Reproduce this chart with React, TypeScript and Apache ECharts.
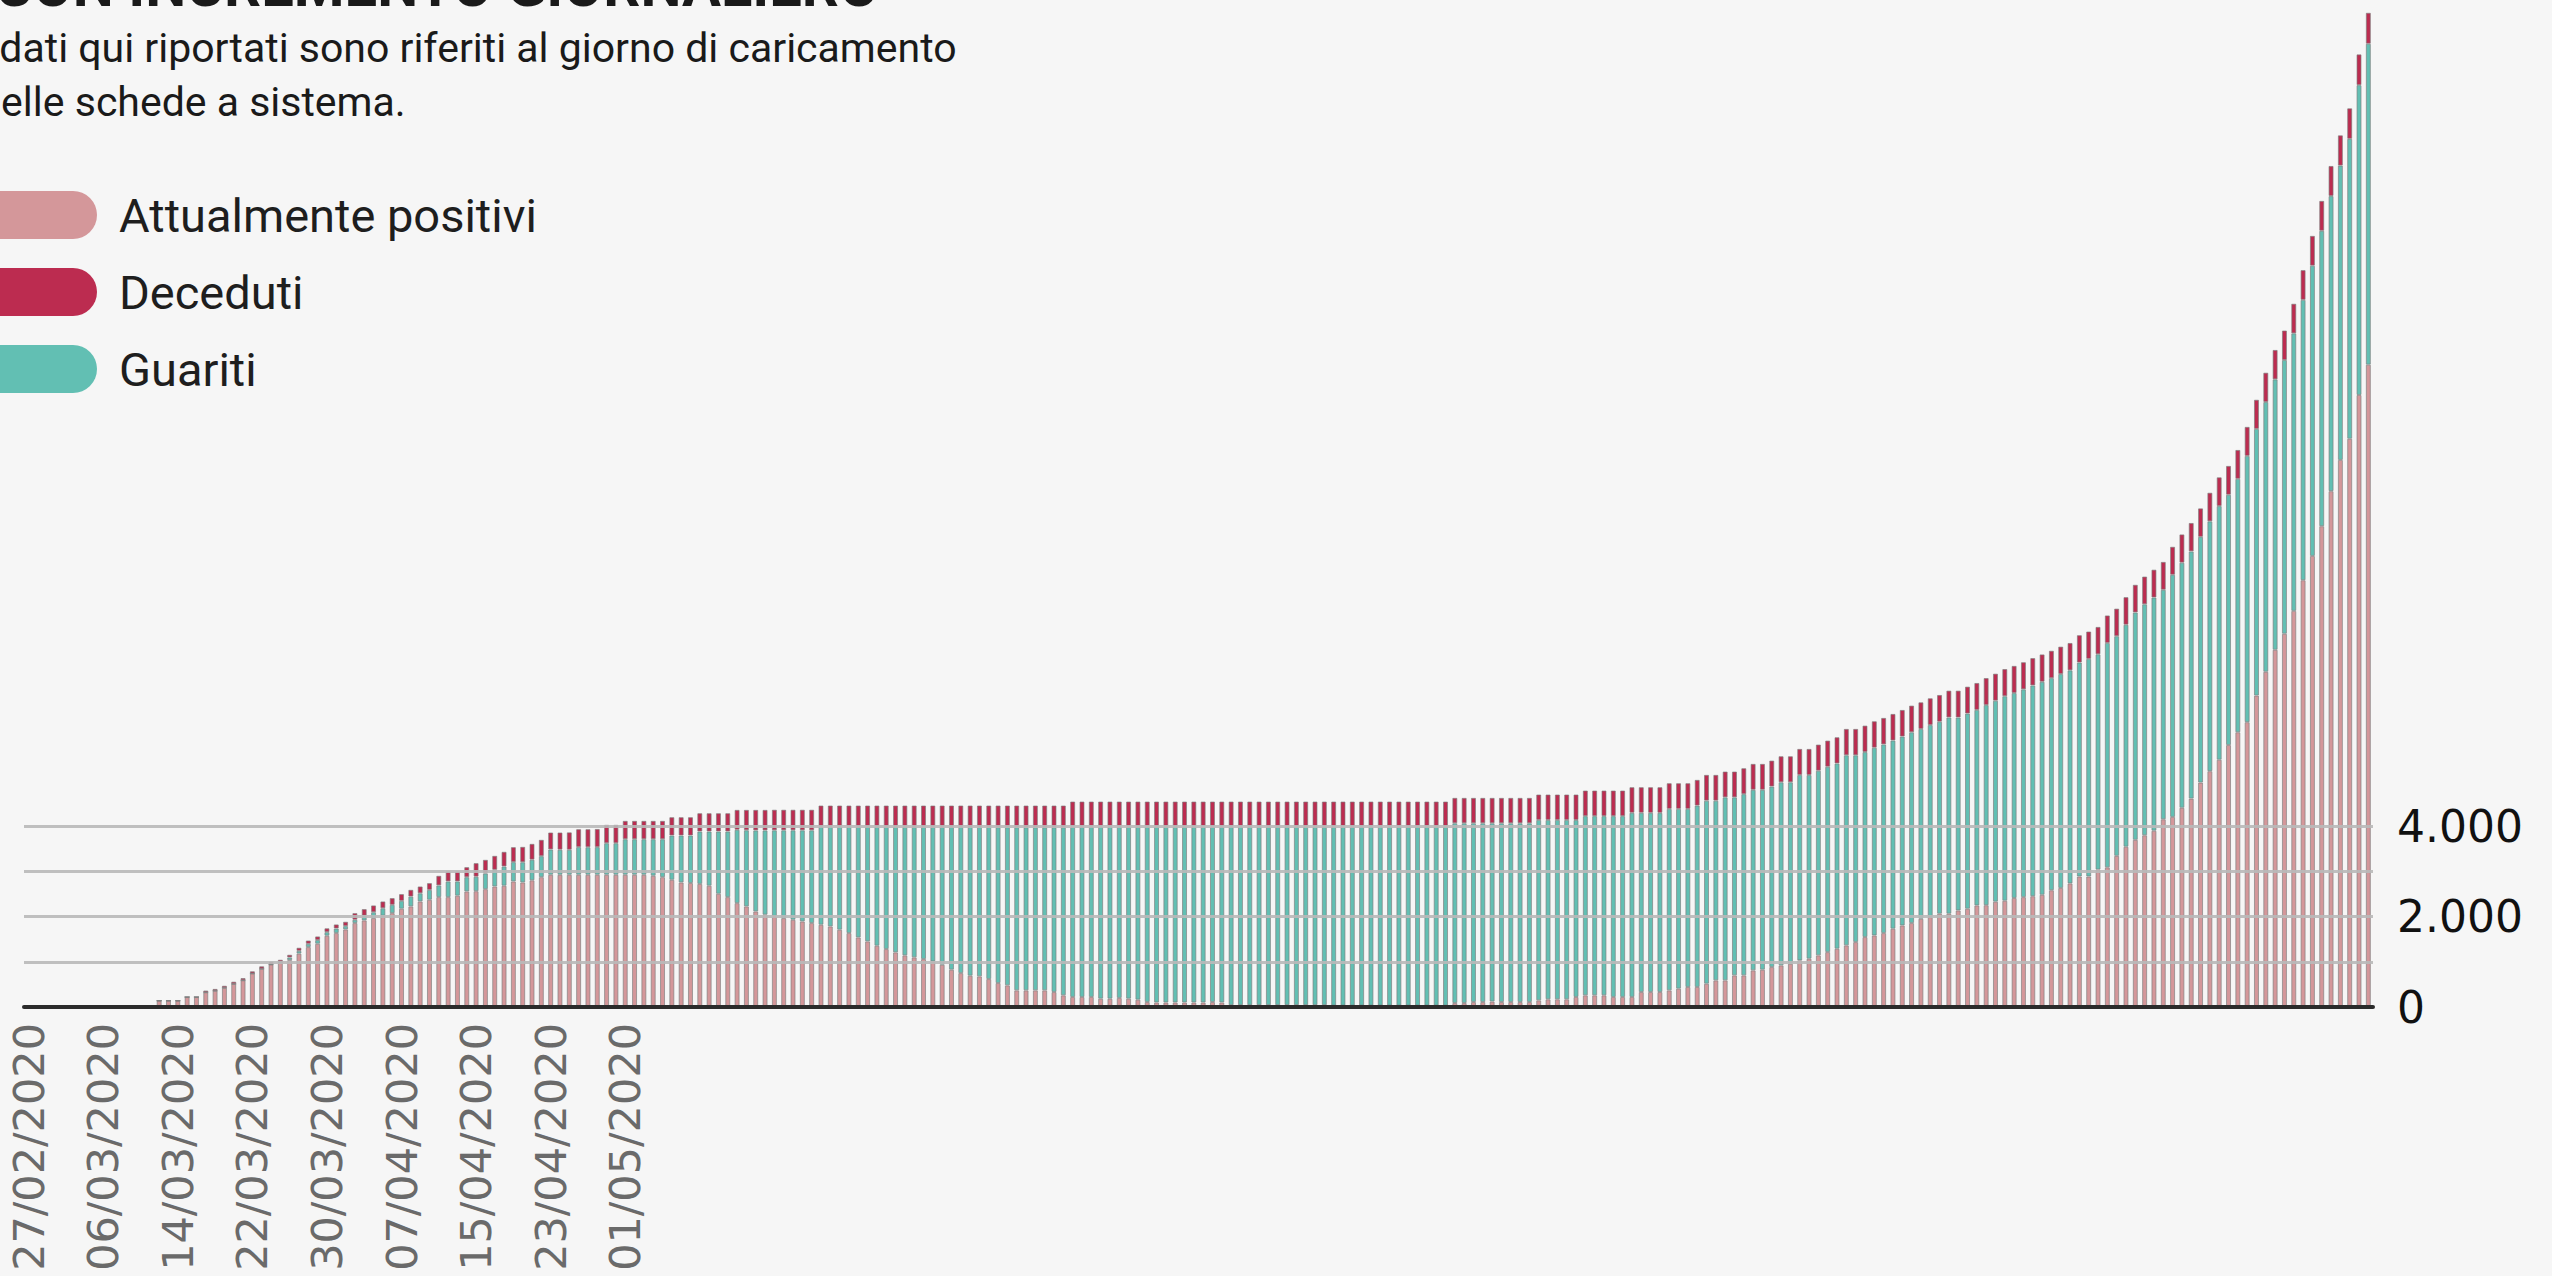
import React, { useEffect, useRef } from "react";
import * as echarts from "echarts";

// Attualmente positivi (bottom segment)
const positivi: number[] = [
  0, 0, 0, 0, 0, 0, 0, 0, 0, 0,
  0, 0, 0, 0, 140, 140, 140, 220, 220, 325,
  360, 425, 510, 590, 740, 845, 940, 985, 1035, 1180,
  1325, 1398, 1575, 1634, 1715, 1855, 1914, 1965, 2017, 2075,
  2171, 2223, 2333, 2370, 2429, 2429, 2460, 2554, 2560, 2605,
  2664, 2680, 2775, 2753, 2800, 2870, 2922, 2922, 2922, 2922,
  2922, 2922, 2922, 2922, 2922, 2922, 2922, 2900, 2870, 2811,
  2753, 2740, 2720, 2680, 2502, 2429, 2296, 2223, 2112, 2039,
  2002, 1965, 1928, 1891, 1855, 1818, 1781, 1708, 1634, 1538,
  1450, 1354, 1281, 1207, 1141, 1097, 1060, 1008, 935, 824,
  750, 692, 677, 618, 530, 478, 368, 368, 368, 368,
  331, 258, 221, 221, 221, 184, 184, 200, 184, 162,
  110, 100, 100, 100, 100, 100, 100, 110, 100, 40,
  40, 40, 40, 40, 40, 40, 40, 40, 40, 40,
  30, 30, 30, 30, 30, 30, 30, 30, 30, 30,
  30, 30, 30, 88, 88, 110, 110, 120, 110, 110,
  110, 110, 147, 170, 170, 170, 221, 258, 258, 258,
  221, 221, 221, 331, 331, 331, 368, 405, 442, 442,
  515, 589, 589, 699, 699, 810, 824, 883, 920, 957,
  1030, 1067, 1141, 1214, 1288, 1362, 1435, 1546, 1582, 1634,
  1730, 1803, 1855, 1950, 1987, 2061, 2061, 2134, 2171, 2245,
  2250, 2328, 2348, 2409, 2429, 2449, 2479, 2581, 2631, 2732,
  2884, 2884, 3036, 3087, 3340, 3542, 3694, 3795, 3896, 4149,
  4200, 4402, 4605, 4959, 5212, 5465, 5789, 6072, 6295, 6882,
  7408, 7894, 8248, 8754, 9432, 9968, 10626, 11400, 12090, 12558,
  13525, 14195,
];

// Guariti (middle segment)
const guariti: number[] = [
  0, 0, 0, 0, 0, 0, 0, 0, 0, 0,
  0, 0, 0, 0, 0, 0, 0, 0, 0, 0,
  0, 0, 0, 0, 0, 0, 0, 0, 60, 60,
  70, 82, 80, 101, 74, 73, 103, 130, 166, 182,
  174, 217, 181, 218, 258, 346, 315, 316, 320, 348,
  368, 426, 428, 447, 456, 465, 560, 555, 553, 613,
  610, 613, 699, 699, 787, 787, 787, 809, 839, 979,
  1037, 1050, 1158, 1198, 1376, 1449, 1621, 1684, 1790, 1863,
  1903, 1940, 1977, 2014, 2050, 2170, 2207, 2280, 2354, 2450,
  2538, 2634, 2707, 2781, 2847, 2886, 2923, 2975, 3048, 3159,
  3233, 3286, 3301, 3360, 3445, 3497, 3606, 3606, 3606, 3606,
  3643, 3716, 3769, 3769, 3769, 3806, 3806, 3790, 3806, 3828,
  3880, 3890, 3890, 3890, 3890, 3890, 3890, 3880, 3890, 3950,
  3950, 3950, 3950, 3950, 3950, 3950, 3950, 3950, 3950, 3950,
  3960, 3960, 3960, 3960, 3960, 3960, 3960, 3960, 3960, 3960,
  3960, 3960, 3960, 3974, 3974, 3952, 3952, 3942, 3952, 3952,
  3952, 3952, 3987, 3964, 3964, 3964, 3912, 3961, 3961, 3961,
  3998, 3998, 4071, 3961, 3960, 3960, 4010, 3973, 3936, 4009,
  4045, 3971, 4044, 3934, 4006, 3990, 3976, 3989, 4047, 4010,
  4098, 4060, 4081, 4095, 4094, 4202, 4128, 4089, 4148, 4169,
  4160, 4174, 4217, 4194, 4245, 4243, 4338, 4264, 4314, 4320,
  4423, 4441, 4521, 4530, 4591, 4657, 4708, 4687, 4728, 4708,
  4728, 4809, 4759, 4958, 4856, 4906, 5025, 5105, 5154, 5071,
  5351, 5417, 5464, 5431, 5521, 5606, 5531, 5599, 5884, 5893,
  5962, 5977, 6050, 6133, 6195, 6414, 6527, 6522, 6504, 6628,
  6848, 7092,
];

// Deceduti (top segment)
const deceduti: number[] = [
  0, 0, 0, 0, 0, 0, 0, 0, 0, 0,
  0, 0, 0, 0, 0, 0, 0, 0, 0, 40,
  40, 45, 50, 50, 50, 55, 60, 60, 60, 70,
  75, 80, 85, 90, 95, 147, 147, 150, 150, 150,
  150, 150, 150, 150, 213, 221, 221, 221, 300, 300,
  309, 324, 330, 340, 350, 360, 375, 380, 385, 395,
  398, 400, 405, 405, 405, 405, 405, 405, 405, 405,
  405, 405, 405, 405, 405, 405, 440, 450, 455, 455,
  455, 455, 455, 455, 455, 465, 465, 465, 465, 465,
  465, 465, 465, 465, 465, 470, 470, 470, 470, 470,
  470, 475, 475, 475, 478, 478, 479, 479, 479, 479,
  479, 479, 551, 551, 551, 551, 551, 551, 551, 551,
  551, 551, 551, 551, 551, 551, 551, 551, 551, 551,
  551, 551, 551, 551, 551, 551, 551, 551, 551, 551,
  551, 551, 551, 551, 551, 551, 551, 551, 551, 551,
  551, 551, 551, 560, 560, 560, 560, 560, 560, 560,
  560, 560, 562, 562, 562, 562, 563, 565, 565, 565,
  565, 565, 566, 566, 567, 567, 568, 568, 568, 569,
  570, 570, 571, 571, 572, 573, 573, 574, 575, 575,
  576, 577, 578, 579, 580, 582, 583, 584, 585, 586,
  587, 588, 589, 590, 591, 592, 593, 594, 595, 596,
  597, 598, 600, 600, 600, 605, 605, 605, 605, 605,
  605, 605, 605, 608, 608, 610, 612, 613, 615, 617,
  620, 625, 628, 630, 632, 635, 638, 640, 642, 645,
  648, 650, 652, 655, 658, 660, 662, 665, 670, 675,
  680, 685,
];

const START_DATE = Date.UTC(2020, 1, 27);
const pad = (n: number) => (n < 10 ? "0" + n : String(n));
const dates: string[] = positivi.map((_, i) => {
  const d = new Date(START_DATE + i * 86400000);
  return `${pad(d.getUTCDate())}/${pad(d.getUTCMonth() + 1)}/${d.getUTCFullYear()}`;
});

const Y_TICKS = [0, 1000, 2000, 3000, 4000];
const LAST_LABEL_INDEX = 64;

const TITLE = "CASI TOTALI CON INCREMENTO GIORNALIERO";
const SUB1 = "I dati qui riportati sono riferiti al giorno di caricamento";
const SUB2 = "delle schede a sistema.";

const COLORS = { positivi: "#d4979a", deceduti: "#bc2c50", guariti: "#62bfb3" };

const fmt = (v: number) => String(v).replace(/\B(?=(\d{3})+(?!\d))/g, ".");

export default function App() {
  const ref = useRef<HTMLDivElement>(null);
  useEffect(() => {
    document.body.style.margin = "0";
    document.body.style.background = "#f6f6f6";
    if (!ref.current) return;
    const chart = echarts.init(ref.current, null, { renderer: "svg" });
    const barItem = (color: string) => ({
      color,
      borderColor: "rgba(125,125,125,0.65)",
      borderWidth: 1,
    });
    chart.setOption({
      animation: false,
      backgroundColor: "#f6f6f6",
      graphic: [
        {
          type: "text",
          x: 879,
          y: -14,
          style: {
            text: TITLE,
            fontFamily: "Roboto",
            fontWeight: "bold",
            fontSize: 58,
            fill: "#1a1a1a",
            align: "right",
            verticalAlign: "middle",
          },
        },
        {
          type: "text",
          x: -22,
          y: 48,
          style: {
            text: SUB1,
            fontFamily: "Roboto",
            fontSize: 41,
            fill: "#1a1a1a",
            align: "left",
            verticalAlign: "middle",
          },
        },
        {
          type: "text",
          x: -22,
          y: 102,
          style: {
            text: SUB2,
            fontFamily: "Roboto",
            fontSize: 41,
            fill: "#1a1a1a",
            align: "left",
            verticalAlign: "middle",
          },
        },
      ],
      legend: {
        orient: "vertical",
        left: -38,
        top: 186,
        itemWidth: 130,
        itemHeight: 48,
        itemGap: 29,
        icon: "path://M24 0H106A24 24 0 0 1 106 48H24A24 24 0 0 1 24 0Z",
        itemStyle: { borderWidth: 0 },
        textStyle: {
          fontFamily: "Roboto",
          fontSize: 47,
          color: "#1e1e1e",
          lineHeight: 48,
          padding: [0, 0, 0, 17],
        },
        data: ["Attualmente positivi", "Deceduti", "Guariti"],
      },
      grid: {
        left: 24,
        right: 179,
        top: 826,
        bottom: 269,
        containLabel: false,
        outerBoundsMode: "none",
      },
      xAxis: {
        type: "category",
        data: dates,
        z: 3,
        axisLine: { show: true, lineStyle: { color: "#2b2b2b", width: 4 } },
        axisTick: { show: false },
        axisLabel: {
          interval: 7,
          rotate: 90,
          margin: 16,
          fontFamily: "DejaVu Sans",
          fontSize: 43,
          color: "#6a6a6a",
          formatter: (v: string, i: number) => (i <= LAST_LABEL_INDEX ? v : ""),
        },
      },
      yAxis: {
        type: "value",
        position: "right",
        min: Y_TICKS[0],
        max: Y_TICKS[Y_TICKS.length - 1],
        interval: 1000,
        z: 3,
        axisLine: { show: false },
        axisTick: { show: false },
        splitLine: { show: true, lineStyle: { color: "rgba(185,185,185,0.9)", width: 3 } },
        axisLabel: {
          margin: 24,
          fontFamily: "DejaVu Sans",
          fontSize: 44,
          color: "#111111",
          formatter: (v: number) => (v % 2000 === 0 ? fmt(v) : ""),
        },
      },
      series: [
        {
          name: "Attualmente positivi",
          type: "bar",
          stack: "tot",
          barWidth: 5,
          clip: false,
          itemStyle: barItem(COLORS.positivi),
          data: positivi,
        },
        {
          name: "Guariti",
          type: "bar",
          stack: "tot",
          barWidth: 5,
          clip: false,
          itemStyle: barItem(COLORS.guariti),
          data: guariti,
        },
        {
          name: "Deceduti",
          type: "bar",
          stack: "tot",
          barWidth: 5,
          clip: false,
          itemStyle: barItem(COLORS.deceduti),
          data: deceduti,
        },
      ],
    });
    return () => chart.dispose();
  }, []);
  return <div ref={ref} style={{ width: 2552, height: 1276 }} />;
}
